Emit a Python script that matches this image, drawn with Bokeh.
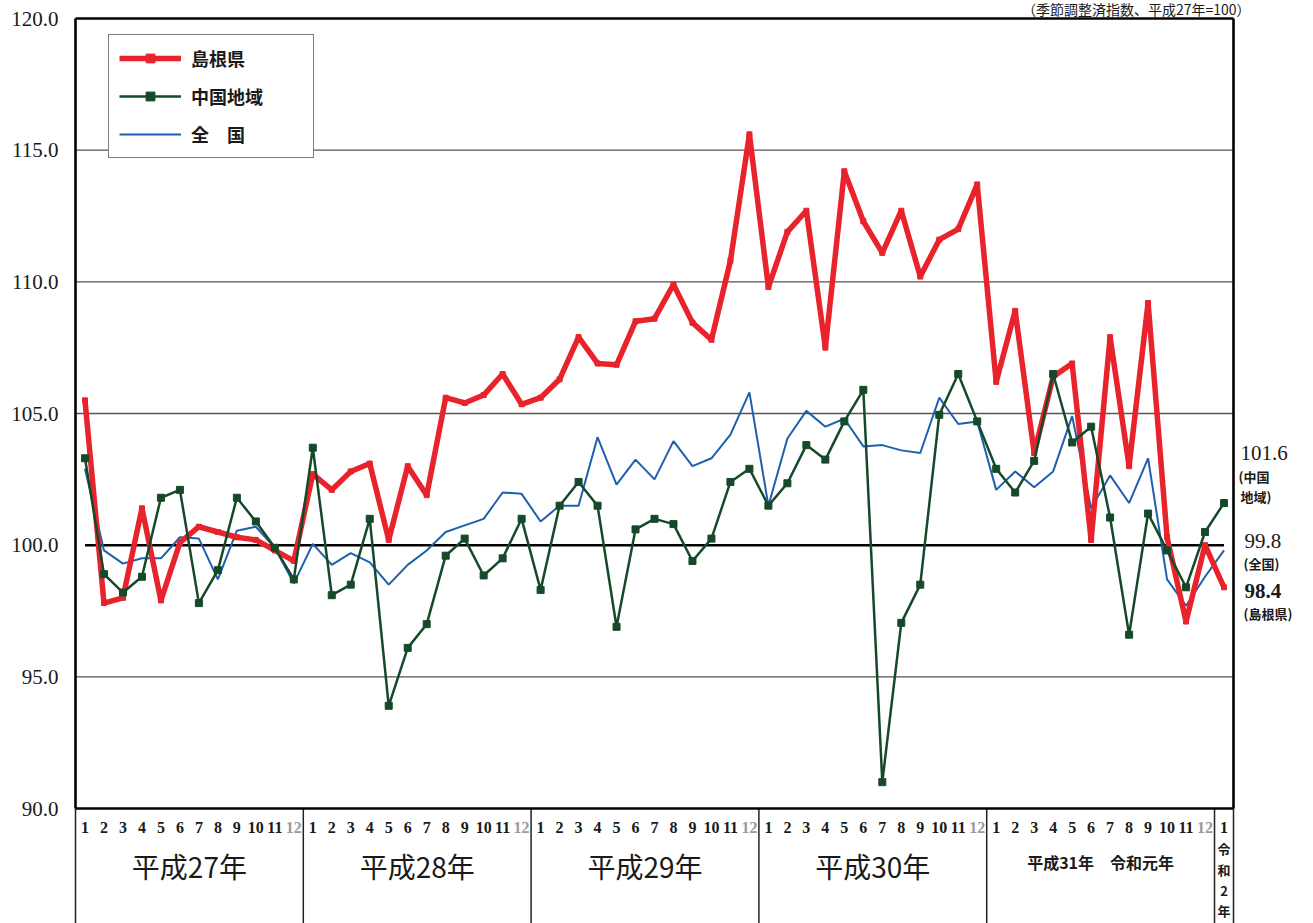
from bokeh.plotting import figure
from bokeh.models import Range1d, FixedTicker, Legend, LegendItem, NumeralTickFormatter
from bokeh.core.properties import value
from bokeh.embed import file_html
from bokeh.resources import INLINE

# ---- data -------------------------------------------------------------
year_names = ["平成27年", "平成28年", "平成29年", "平成30年"]
year_2019 = "平成31年　令和元年"
year_2020 = ["令", "和", "2", "年"]
months = list(range(1, 13)) * 5 + [1]

shimane = [105.5, 97.8, 98.0, 101.4, 97.9, 100.1, 100.7, 100.5, 100.3, 100.2, 99.8, 99.4,
           102.7, 102.1, 102.8, 103.1, 100.2, 103.0, 101.9, 105.6, 105.4, 105.7, 106.5, 105.35,
           105.6, 106.3, 107.9, 106.9, 106.85, 108.5, 108.6, 109.9, 108.45, 107.8, 110.8, 115.6,
           109.8, 111.9, 112.7, 107.5, 114.2, 112.3, 111.1, 112.7, 110.2, 111.6, 112.0, 113.7,
           106.2, 108.9, 103.5, 106.4, 106.9, 100.2, 107.9, 103.0, 109.2, 100.3, 97.1, 100.0,
           98.4]
chugoku = [103.3, 98.9, 98.2, 98.8, 101.8, 102.1, 97.8, 99.05, 101.8, 100.9, 99.9, 98.7,
           103.7, 98.1, 98.5, 101.0, 93.9, 96.1, 97.0, 99.6, 100.25, 98.85, 99.5, 101.0,
           98.3, 101.5, 102.4, 101.5, 96.9, 100.6, 101.0, 100.8, 99.4, 100.25, 102.4, 102.9,
           101.5, 102.35, 103.8, 103.25, 104.7, 105.9, 91.0, 97.05, 98.5, 104.95, 106.5, 104.7,
           102.9, 102.0, 103.2, 106.5, 103.9, 104.5, 101.05, 96.6, 101.2, 99.8, 98.4, 100.5,
           101.6]
zenkoku = [102.9, 99.8, 99.3, 99.5, 99.5, 100.3, 100.25, 98.7, 100.55, 100.7, 99.9, 98.55,
           100.05, 99.25, 99.7, 99.35, 98.5, 99.25, 99.8, 100.5, 100.75, 101.0, 102.0, 101.95,
           100.9, 101.5, 101.5, 104.1, 102.3, 103.25, 102.5, 103.95, 103.0, 103.3, 104.2, 105.8,
           101.5, 104.05, 105.1, 104.5, 104.8, 103.75, 103.8, 103.6, 103.5, 105.6, 104.6, 104.7,
           102.1, 102.8, 102.2, 102.8, 104.9, 101.4, 102.65, 101.6, 103.3, 98.7, 97.7, 98.8,
           99.8]
series_names = ["島根県", "中国地域", "全　国"]
y_ticks = [90, 95, 100, 105, 110, 115, 120]
grid_ticks = [95, 105, 110, 115]
Y_MIN, Y_MAX = 90, 120
BASE = 100.0
end_big = ["101.6", "99.8", "98.4"]
end_small = ["(中国", "地域)", "(全国)", "(島根県)"]
unit_note = "（季節調整済指数、平成27年=100）"

# ---- geometry helpers (page pixels -> data coords) ---------------------
n = len(months)
xs = list(range(n))
OFF = 0                      # page offset of the canvas
W, H = 1313, 923
PLOT_L, PLOT_R, PLOT_T, PLOT_B = 75, 1233, 18, 808      # page pixels of the plot box
UX = (PLOT_R - PLOT_L) / n
KY = (PLOT_B - PLOT_T) / (Y_MAX - Y_MIN)
def xd(px):
    return (px - PLOT_L) / UX - 0.5
def yd(py):
    return Y_MAX - (py - PLOT_T) / KY

FR_L = 72  # page x of the frame's left edge
p = figure(width=W, height=H, output_backend="svg", toolbar_location=None,
           x_range=Range1d(xd(FR_L), xd(OFF + W)), y_range=Range1d(yd(OFF + H), yd(OFF)),
           min_border_left=FR_L - OFF, min_border_right=0, min_border_top=0, min_border_bottom=0,
           x_axis_location=None, background_fill_color="white", border_fill_color="white")
p.outline_line_color = None
p.xgrid.grid_line_color = None
p.ygrid.grid_line_color = None

# y axis
p.yaxis.ticker = FixedTicker(ticks=y_ticks)
p.yaxis.formatter = NumeralTickFormatter(format="0.0")
p.yaxis.axis_line_color = None
p.yaxis.major_tick_line_color = None
p.yaxis.minor_tick_line_color = None
p.yaxis.major_tick_out = 0
p.yaxis.major_label_standoff = 14
p.yaxis.major_label_text_font = "Liberation Serif"
p.yaxis.major_label_text_font_size = "21px"
p.yaxis.major_label_text_color = "#1a1a1a"

x0, x1 = xs[0] - 0.5, xs[-1] + 0.5
y_bottom = yd(OFF + H)

# grid lines
p.segment(x0=[x0] * len(grid_ticks), y0=grid_ticks, x1=[x1] * len(grid_ticks), y1=grid_ticks,
          line_color="#555555", line_width=1.3)

# table below the plot: year separators
seps = [x0, 11.5, 23.5, 35.5, 47.5, 59.5, x1]
p.segment(x0=seps, y0=[Y_MIN] * len(seps), x1=seps, y1=[y_bottom] * len(seps),
          line_color="#222222", line_width=1.5)

# plot box
p.segment(x0=[x0, x0, x0, x1], y0=[Y_MIN, Y_MAX, Y_MIN, Y_MIN],
          x1=[x1, x1, x0, x1], y1=[Y_MIN, Y_MAX, Y_MAX, Y_MAX],
          line_color="black", line_width=2.6)

# base line at 100
p.line([xs[0], xs[-1]], [BASE, BASE], line_color="black", line_width=2.5)

# series
blue = p.line(xs, zenkoku, line_color="#1f5fae", line_width=2)
red = p.line(xs, shimane, line_color="#e8232b", line_width=5.5)
red_pts = p.scatter(xs, shimane, marker="square", size=5, color="#e8232b")
green = p.line(xs, chugoku, line_color="#15492a", line_width=2.5)
green_pts = p.scatter(xs, chugoku, marker="square", size=7, color="#15492a")

legend = Legend(items=[LegendItem(label=series_names[0], renderers=[red, red_pts]),
                       LegendItem(label=series_names[1], renderers=[green, green_pts]),
                       LegendItem(label=series_names[2], renderers=[blue])],
                location=(108 - FR_L, OFF + H - 158), padding=10, spacing=12,
                glyph_width=62, glyph_height=22, label_height=22, label_width=112,
                label_standoff=10, label_text_font="Noto Sans CJK JP",
                label_text_font_size="18px", label_text_font_style="bold",
                label_text_color="#1a1a1a",
                border_line_color="black", border_line_width=1.5,
                background_fill_color="white", background_fill_alpha=1.0)
p.add_layout(legend)

# month numbers
month_colors = ["#9a9a9a" if m == 12 else "#1a1a1a" for m in months]
p.text(x=xs, y=[yd(827)] * n, text=[str(m) for m in months], text_color=month_colors,
       text_font=value("Liberation Serif"), text_font_style="bold", text_font_size="16px",
       text_align="center", text_baseline="middle")

# year names
year_centers = [5.5, 17.5, 29.5, 41.5]
p.text(x=year_centers, y=[yd(865)] * 4, text=year_names, text_color="#1a1a1a",
       text_font=value("Noto Sans CJK JP"), text_font_size="28px",
       text_align="center", text_baseline="middle")
p.text(x=[53.5], y=[yd(861)], text=[year_2019], text_color="#1a1a1a",
       text_font=value("Noto Sans CJK JP"), text_font_style="bold", text_font_size="16px",
       text_align="center", text_baseline="middle")
p.text(x=[60] * 4, y=[yd(py) for py in (848, 869, 890, 910)], text=year_2020,
       text_color="#1a1a1a", text_font=value("Noto Sans CJK JP"), text_font_style="bold",
       text_font_size="13px", text_align="center", text_baseline="middle")

# end labels on the right
p.text(x=[xd(1240), xd(1244), xd(1244)], y=[yd(452), yd(540), yd(590)], text=end_big,
       text_color="#1a1a1a", text_font=value("Liberation Serif"), text_font_size="21px",
       text_font_style=["normal", "normal", "bold"], text_align="left", text_baseline="middle")
p.text(x=[xd(1238), xd(1240), xd(1243), xd(1243)],
       y=[yd(476), yd(496), yd(563), yd(613)], text=end_small,
       text_color="#1a1a1a", text_font=value("Noto Sans CJK JP"), text_font_size="13px",
       text_font_style="bold", text_align="left", text_baseline="middle")

# unit note (top right)
p.text(x=[xd(1250)], y=[yd(8.5)], text=[unit_note], text_color="#1a1a1a",
       text_font=value("Noto Sans CJK JP"), text_font_size="14px",
       text_align="right", text_baseline="middle")

open("out.html", "w").write(file_html(p, INLINE))
